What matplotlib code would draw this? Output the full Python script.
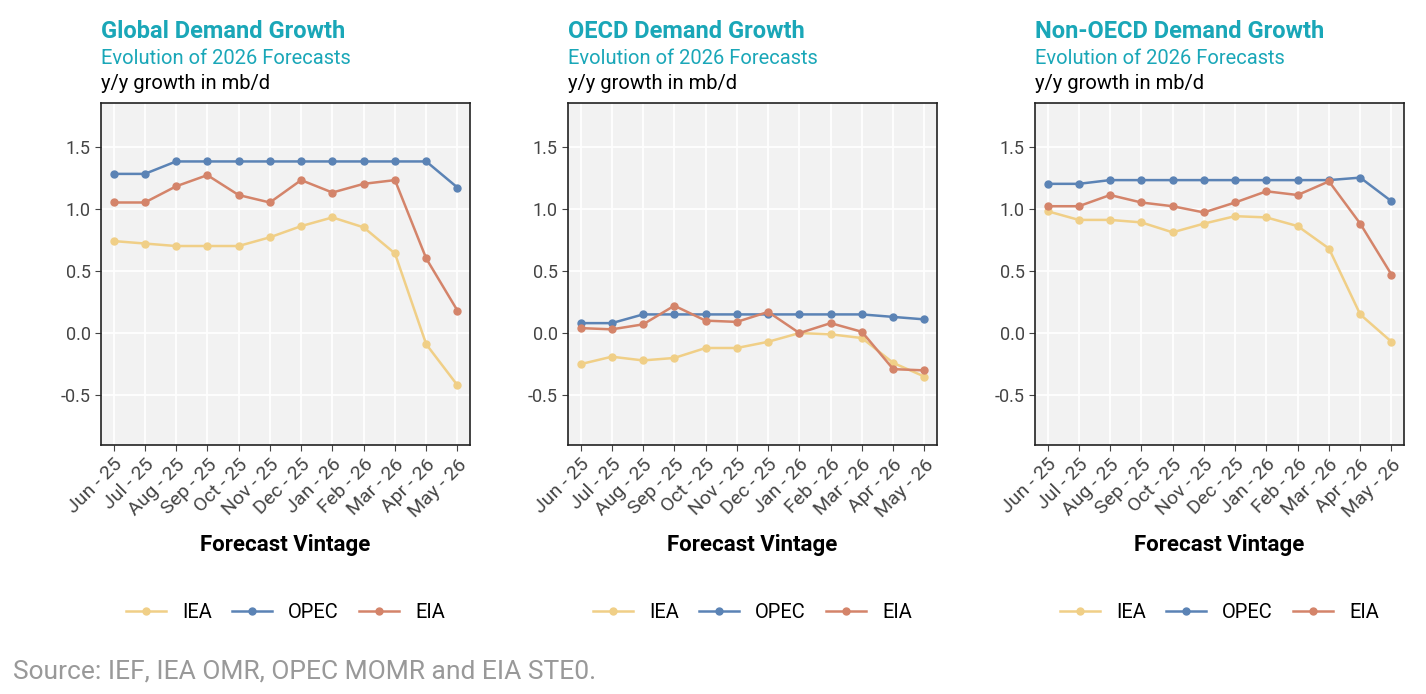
import matplotlib.pyplot as plt
import numpy as np

plt.rcParams['font.family'] = ['Roboto', 'DejaVu Sans']

vintages = ['Jun - 25', 'Jul - 25', 'Aug - 25', 'Sep - 25', 'Oct - 25', 'Nov - 25',
            'Dec - 25', 'Jan - 26', 'Feb - 26', 'Mar - 26', 'Apr - 26', 'May - 26']

global_iea = [0.74, 0.72, 0.70, 0.70, 0.70, 0.77, 0.86, 0.93, 0.85, 0.64, -0.09, -0.42]
global_opec = [1.28, 1.28, 1.38, 1.38, 1.38, 1.38, 1.38, 1.38, 1.38, 1.38, 1.38, 1.17]
global_eia = [1.05, 1.05, 1.18, 1.27, 1.11, 1.05, 1.23, 1.13, 1.20, 1.23, 0.60, 0.18]

oecd_iea = [-0.25, -0.19, -0.22, -0.20, -0.12, -0.12, -0.07, 0.00, -0.01, -0.04, -0.24, -0.35]
oecd_opec = [0.08, 0.08, 0.15, 0.15, 0.15, 0.15, 0.15, 0.15, 0.15, 0.15, 0.13, 0.11]
oecd_eia = [0.04, 0.03, 0.07, 0.22, 0.10, 0.09, 0.17, 0.00, 0.08, 0.01, -0.29, -0.30]

non_iea = [0.98, 0.91, 0.91, 0.89, 0.81, 0.88, 0.94, 0.93, 0.86, 0.68, 0.15, -0.07]
non_opec = [1.20, 1.20, 1.23, 1.23, 1.23, 1.23, 1.23, 1.23, 1.23, 1.23, 1.25, 1.06]
non_eia = [1.02, 1.02, 1.11, 1.05, 1.02, 0.97, 1.05, 1.14, 1.11, 1.22, 0.88, 0.47]

titles = ['Global Demand Growth', 'OECD Demand Growth', 'Non-OECD Demand Growth']
panels = [(global_iea, global_opec, global_eia),
          (oecd_iea, oecd_opec, oecd_eia),
          (non_iea, non_opec, non_eia)]

c_iea, c_opec, c_eia = '#f0cf87', '#5b83b5', '#d4846a'
teal = '#1aa7b8'

fig = plt.figure(figsize=(14.26, 6.94), dpi=100)
lefts = [101, 568, 1035]
x = np.arange(len(vintages))
for i in range(3):
    ax = fig.add_axes([lefts[i] / 1426, 1 - 445 / 694, 369 / 1426, 342 / 694])
    ax.set_facecolor('#f2f2f2')
    iea, opec, eia = panels[i]
    ax.plot(x, iea, color=c_iea, marker='o', ms=5, lw=1.8, label='IEA')
    ax.plot(x, opec, color=c_opec, marker='o', ms=5, lw=1.8, label='OPEC')
    ax.plot(x, eia, color=c_eia, marker='o', ms=5, lw=1.8, label='EIA')
    ax.set_ylim(-0.9, 1.85)
    ax.set_xlim(-0.4, 11.4)
    ax.set_yticks([-0.5, 0.0, 0.5, 1.0, 1.5])
    ax.set_yticklabels(['-0.5', '0.0', '0.5', '1.0', '1.5'])
    ax.set_xticks(x)
    ax.set_xticklabels(vintages, rotation=45, ha='right', rotation_mode='anchor')
    ax.tick_params(axis='y', labelsize=13, colors='#444444', length=4)
    ax.tick_params(axis='x', labelsize=14, colors='#444444', length=4)
    ax.grid(True, color='white', lw=1.3)
    ax.set_axisbelow(True)
    for s in ax.spines.values():
        s.set_color('#222222')
        s.set_linewidth(1.2)
    ax.set_xlabel('Forecast Vintage', fontsize=16, fontweight='bold', labelpad=10)
    ax.text(0, 1.19, titles[i], transform=ax.transAxes, fontsize=17, fontweight='bold', color=teal)
    ax.text(0, 1.115, 'Evolution of 2026 Forecasts', transform=ax.transAxes, fontsize=14.5, color=teal)
    ax.text(0, 1.04, 'y/y growth in mb/d', transform=ax.transAxes, fontsize=14.5, color='black')
    ax.legend(loc='upper center', bbox_to_anchor=(0.5, -0.41), ncol=3, frameon=False,
              fontsize=14.5, handlelength=2, columnspacing=1.0)

fig.text(13 / 1426, 1 - 672 / 694, 'Source: IEF, IEA OMR, OPEC MOMR and EIA STE0.',
         fontsize=19, color='#999999', va='center')

fig.savefig('out.png', dpi=100)
